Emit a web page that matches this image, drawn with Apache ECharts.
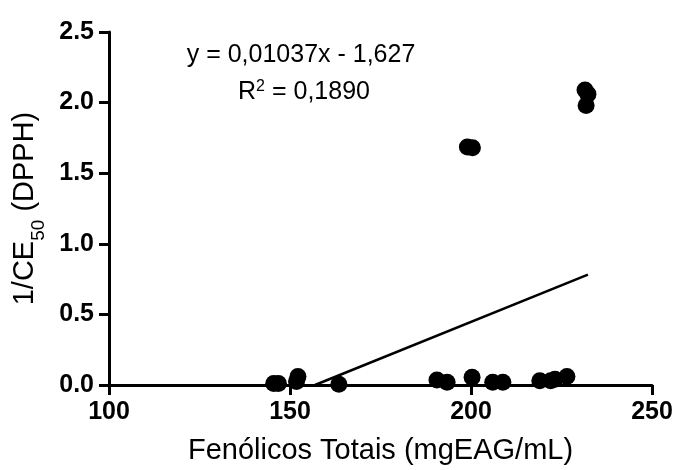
<!DOCTYPE html>
<html><head><meta charset="utf-8">
<script src="https://cdn.jsdelivr.net/npm/echarts@6/dist/echarts.min.js"></script>
<style>html,body{margin:0;padding:0;background:#fff}#c{width:676px;height:470px}</style>
</head><body><div id="c"></div>
<script>
const phenolics = [145.5, 146.8, 151.8, 152.2, 163.5, 190.6, 193.4, 200.3, 206.0, 208.8, 219.0, 222.0, 223.2, 226.5, 199.0, 200.4, 231.5, 232.3, 231.8];
const dpph      = [0.01, 0.01, 0.025, 0.06, 0.005, 0.035, 0.02, 0.055, 0.02, 0.02, 0.03, 0.03, 0.04, 0.06, 1.685, 1.68, 2.09, 2.06, 1.98];
const slope = 0.01037, intercept = -1.627;
const fitRange = [156.9, 232.3];
const xTicks = [100, 150, 200, 250];
const yTicks = [0.0, 0.5, 1.0, 1.5, 2.0, 2.5];
const eqLine1 = 'y = 0,01037x - 1,627';
const eqLine2 = 'R{sup|2} = 0,1890';

const FONT = 'Arial, "Liberation Sans", sans-serif';
const pts = phenolics.map((x, i) => [x, dpph[i]]);
const fit = fitRange.map(x => [x, slope * x + intercept]);

const chart = echarts.init(document.getElementById('c'), null, {renderer: 'canvas'});
chart.setOption({
  animation: false,
  backgroundColor: '#fff',
  grid: {left: 109, right: 24, top: 32, bottom: 84, containLabel: false},
  xAxis: {
    type: 'value', min: xTicks[0], max: xTicks[xTicks.length - 1], interval: 50,
    axisLine: {show: true, onZero: false, lineStyle: {color: '#000', width: 3}},
    axisTick: {show: true, length: 10, lineStyle: {color: '#000', width: 3}},
    axisLabel: {color: '#000', fontFamily: FONT, fontWeight: 'bold', fontSize: 25, margin: 15},
    splitLine: {show: false},
    name: 'Fenólicos Totais (mgEAG/mL)', nameLocation: 'middle', nameGap: 51,
    nameTextStyle: {color: '#000', fontFamily: FONT, fontSize: 29}
  },
  yAxis: {
    type: 'value', min: yTicks[0], max: yTicks[yTicks.length - 1], interval: 0.5,
    axisLine: {show: true, onZero: false, lineStyle: {color: '#000', width: 3}},
    axisTick: {show: true, length: 10, lineStyle: {color: '#000', width: 3}},
    axisLabel: {color: '#000', fontFamily: FONT, fontWeight: 'bold', fontSize: 25, margin: 15,
      formatter: v => v.toFixed(1)},
    splitLine: {show: false},
    name: '1/CE{sub|50} (DPPH)', nameLocation: 'middle', nameRotate: 90, nameGap: 70,
    nameTextStyle: {color: '#000', fontFamily: FONT, fontSize: 29,
      rich: {sub: {fontFamily: FONT, fontSize: 19, color: '#000', verticalAlign: 'bottom', padding: [0, 0, -9, 0]}}}
  },
  series: [
    {type: 'line', data: fit, showSymbol: false, symbol: 'none',
     lineStyle: {color: '#000', width: 2.5}, silent: true, z: 2},
    {type: 'scatter', data: pts, symbol: 'circle', symbolSize: 17,
     itemStyle: {color: '#000', opacity: 1}, z: 3}
  ],
  graphic: [
    {type: 'text', style: {text: eqLine1, x: 301, y: 55, align: 'center', verticalAlign: 'middle',
      font: '25px ' + FONT, fill: '#000'}},
    {type: 'text', style: {text: eqLine2, x: 304, y: 92, align: 'center', verticalAlign: 'middle',
      font: '25px ' + FONT, fill: '#000',
      rich: {sup: {fontSize: 16, fontFamily: FONT, verticalAlign: 'top', padding: [0, 0, 10, 0], fill: '#000'}}}}
  ]
});
</script></body></html>
